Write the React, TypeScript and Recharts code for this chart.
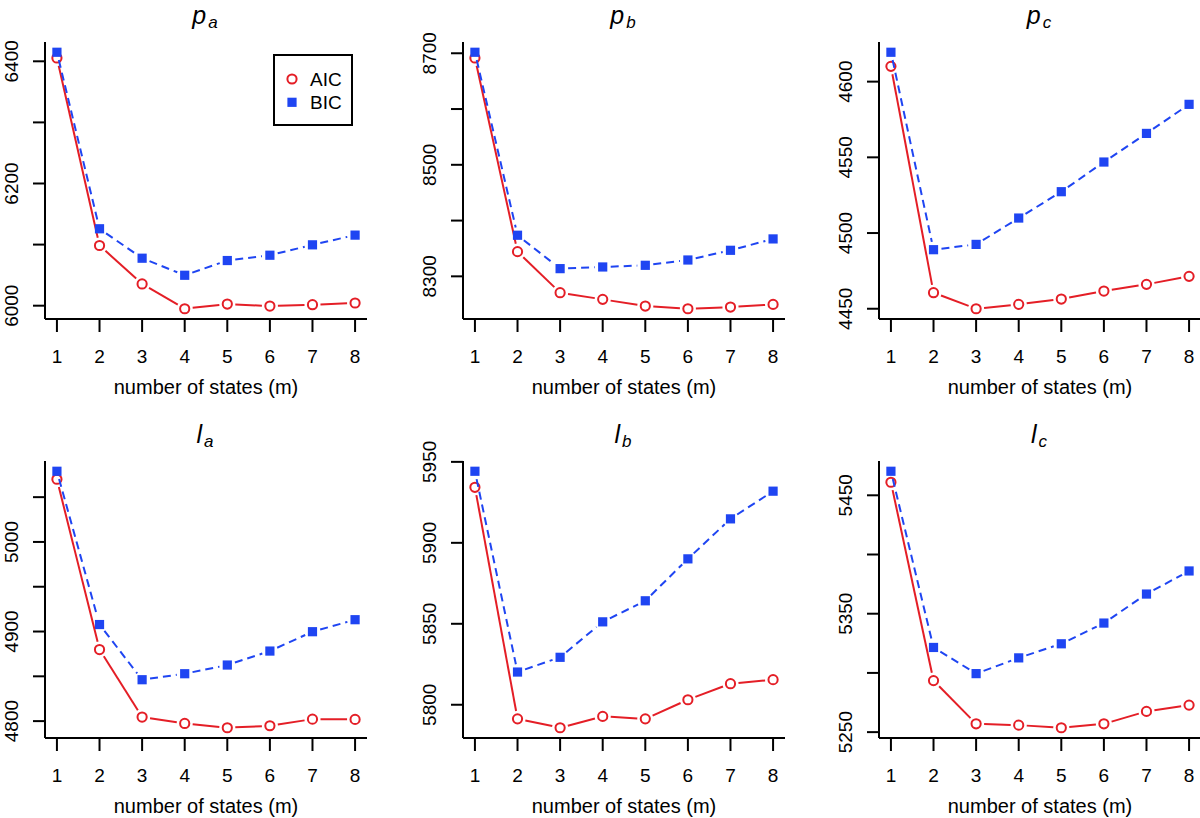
import { LineChart, Line, XAxis, YAxis, Legend } from "recharts";

const states = [1, 2, 3, 4, 5, 6, 7, 8];

const aicPa = [6405.5, 6098.5, 6035.6, 5995, 6002.7, 5999.4, 6001.6, 6004.4];
const bicPa = [6414.8, 6125.9, 6077.7, 6049.8, 6073.9, 6082.6, 6099.6, 6115.5];
const aicPb = [8691.6, 8344.3, 8270.7, 8258.7, 8246.7, 8241.9, 8244.9, 8249.7];
const bicPb = [8701.8, 8373.7, 8313.8, 8316.8, 8319.8, 8329.3, 8346.7, 8367.1];
const aicPc = [4610.1, 4460.6, 4450, 4452.9, 4456.4, 4461.7, 4466.1, 4471.4];
const bicPc = [4619.4, 4489, 4492.5, 4509.9, 4527.3, 4546.9, 4565.8, 4585];
const aicLa = [5070, 4879.9, 4804.5, 4797.4, 4792.6, 4794.8, 4802.2, 4801.9];
const bicLa = [5078.9, 4907.8, 4846.2, 4852.9, 4862.6, 4878.2, 4899.8, 4913.2];
const aicLb = [5934.3, 5791.3, 5785.8, 5792.8, 5791.3, 5803.1, 5813, 5815.5];
const bicLb = [5944.2, 5820.2, 5829.3, 5851.2, 5864.2, 5890.1, 5914.8, 5931.9];
const aicLc = [5461, 5293.5, 5257, 5255.9, 5253.7, 5257, 5267.5, 5272.8];
const bicLc = [5470.3, 5321.5, 5299.4, 5312.7, 5324.6, 5342.1, 5366.6, 5386.1];

const ticksPa = [6000, 6100, 6200, 6300, 6400];
const labelsPa = [6000, 6200, 6400];
const ticksPb = [8300, 8400, 8500, 8600, 8700];
const labelsPb = [8300, 8500, 8700];
const ticksPc = [4450, 4500, 4550, 4600];
const labelsPc = [4450, 4500, 4550, 4600];
const ticksLa = [4800, 4850, 4900, 4950, 5000, 5050];
const labelsLa = [4800, 4900, 5000];
const ticksLb = [5800, 5850, 5900, 5950];
const labelsLb = [5800, 5850, 5900, 5950];
const ticksLc = [5250, 5300, 5350, 5400, 5450];
const labelsLc = [5250, 5350, 5450];

const RED = "#e41e26";
const BLUE = "#1f45f2";
const FONT = "'Liberation Sans', Arial, Helvetica, sans-serif";
const GAP = 8;

// R-style axis range: data range stretched by 4% on each side
const pad = (v: number[]) => {
  const lo = Math.min(...v);
  const hi = Math.max(...v);
  const d = (hi - lo) * 0.04;
  return [lo - d, hi + d];
};

// type="b": segments stop short of the points
const makeDot = (kind: "circle" | "square", color: string, dash?: string) => (props: any) => {
  const { cx, cy, index, points } = props;
  const next = points && points[index + 1];
  let seg = null;
  if (next) {
    const dx = next.x - cx;
    const dy = next.y - cy;
    const len = Math.hypot(dx, dy);
    if (len > GAP * 2) {
      const ux = dx / len;
      const uy = dy / len;
      seg = (
        <line
          x1={cx + ux * GAP}
          y1={cy + uy * GAP}
          x2={next.x - ux * GAP}
          y2={next.y - uy * GAP}
          stroke={color}
          strokeWidth={2}
          strokeDasharray={dash}
        />
      );
    }
  }
  const mark =
    kind === "circle" ? (
      <circle cx={cx} cy={cy} r={4.6} fill="#fff" stroke={color} strokeWidth={2} />
    ) : (
      <rect x={cx - 4.6} y={cy - 4.6} width={9.2} height={9.2} fill={color} />
    );
  return (
    <g key={`d-${index}`}>
      {seg}
      {mark}
    </g>
  );
};

const XTick = (props: any) => {
  const { x, y, payload } = props;
  return (
    <text x={x} y={y + 28.5} textAnchor="middle" fontSize={19} fontFamily={FONT} fill="#000">
      {payload.value}
    </text>
  );
};

const makeYTick = (labels: number[]) => (props: any) => {
  const { x, y, payload } = props;
  if (!labels.includes(payload.value)) return <g />;
  const bx = x - 12.5;
  return (
    <text
      x={bx}
      y={y}
      transform={`rotate(-90 ${bx} ${y})`}
      textAnchor="middle"
      fontSize={19}
      fontFamily={FONT}
      fill="#000"
    >
      {payload.value}
    </text>
  );
};

const LegendBox = (props: any) => {
  const items = props.payload || [];
  return (
    <svg width={80} height={72} style={{ display: "block" }}>
      <rect x={1} y={1} width={78} height={70} fill="#fff" stroke="#000" strokeWidth={2} />
      {items.map((it: any, i: number) => {
        const cy = 25 + i * 23.3;
        return (
          <g key={it.value}>
            {it.type === "circle" ? (
              <circle cx={19} cy={cy} r={4.6} fill="#fff" stroke={it.color} strokeWidth={2} />
            ) : (
              <rect x={14.4} y={cy - 4.6} width={9.2} height={9.2} fill={it.color} />
            )}
            <text x={37} y={cy + 6.8} fontSize={19} fontFamily={FONT} fill="#000">
              {it.value}
            </text>
          </g>
        );
      })}
    </svg>
  );
};

type PanelProps = {
  sym: string;
  sub: string;
  aic: number[];
  bic: number[];
  ticks: number[];
  labels: number[];
  left: number;
  top: number;
  legend?: boolean;
};

function Panel({ sym, sub, aic, bic, ticks, labels, left, top, legend }: PanelProps) {
  const rows = states.map((m, i) => ({ m, aic: aic[i], bic: bic[i] }));
  const yDom = pad([...aic, ...bic]);
  const xDom = pad(states);
  const axisLine = { stroke: "#000", strokeWidth: 2 };
  return (
    <div style={{ position: "absolute", left, top, width: 372, height: 420 }}>
      <div
        style={{
          position: "absolute",
          left: 45,
          width: 320,
          top: 0,
          textAlign: "center",
          fontFamily: FONT,
          fontStyle: "italic",
          color: "#000",
          lineHeight: "30px",
          zIndex: 2,
        }}
      >
        <span style={{ fontSize: 25 }}>{sym}</span>
        <span style={{ fontSize: 17, position: "relative", top: 4, marginLeft: 2 }}>{sub}</span>
      </div>
      <LineChart width={372} height={420} data={rows} margin={{ top: 42, right: 5, bottom: 0, left: 0 }}>
        <XAxis
          xAxisId="b"
          dataKey="m"
          type="number"
          domain={xDom}
          ticks={states}
          interval={0}
          tickSize={13}
          tickLine={axisLine}
          axisLine={axisLine}
          height={101}
          tick={<XTick />}
          label={{
            content: (p: any) => {
              const vb = p.viewBox;
              return (
                <text
                  x={vb.x + vb.width / 2}
                  y={vb.y + 74.5}
                  textAnchor="middle"
                  fontSize={20}
                  fontFamily={FONT}
                  fill="#000"
                >
                  number of states (m)
                </text>
              );
            },
          }}
        />
        <XAxis
          xAxisId="t"
          orientation="top"
          type="number"
          domain={xDom}
          height={0}
          tick={false}
          tickLine={false}
          axisLine={axisLine}
        />
        <YAxis
          yAxisId="l"
          type="number"
          domain={yDom}
          ticks={ticks}
          interval={0}
          width={45}
          tickSize={12}
          tickLine={axisLine}
          axisLine={axisLine}
          tick={makeYTick(labels)}
        />
        <YAxis
          yAxisId="r"
          orientation="right"
          type="number"
          domain={yDom}
          width={0}
          tick={false}
          tickLine={false}
          axisLine={axisLine}
        />
        {legend && (
          <Legend
            layout="horizontal"
            verticalAlign="middle"
            align="center"
            content={<LegendBox />}
            wrapperStyle={{ left: 273, top: 54, width: 80, height: 72 }}
          />
        )}
        <Line
          xAxisId="b"
          yAxisId="l"
          dataKey="aic"
          name="AIC"
          stroke={RED}
          strokeOpacity={0}
          legendType="circle"
          dot={makeDot("circle", RED)}
          activeDot={false}
          isAnimationActive={false}
        />
        <Line
          xAxisId="b"
          yAxisId="l"
          dataKey="bic"
          name="BIC"
          stroke={BLUE}
          strokeOpacity={0}
          legendType="square"
          dot={makeDot("square", BLUE, "8 5")}
          activeDot={false}
          isAnimationActive={false}
        />
      </LineChart>
    </div>
  );
}

export default function App() {
  return (
    <div
      style={{
        position: "absolute",
        left: 0,
        top: 0,
        width: 1200,
        height: 818,
        overflow: "hidden",
        background: "#fff",
      }}
    >
      <Panel sym="p" sub="a" aic={aicPa} bic={bicPa} ticks={ticksPa} labels={labelsPa} left={0} top={0} legend />
      <Panel sym="p" sub="b" aic={aicPb} bic={bicPb} ticks={ticksPb} labels={labelsPb} left={418} top={0} />
      <Panel sym="p" sub="c" aic={aicPc} bic={bicPc} ticks={ticksPc} labels={labelsPc} left={834} top={0} />
      <Panel sym="l" sub="a" aic={aicLa} bic={bicLa} ticks={ticksLa} labels={labelsLa} left={0} top={419} />
      <Panel sym="l" sub="b" aic={aicLb} bic={bicLb} ticks={ticksLb} labels={labelsLb} left={418} top={419} />
      <Panel sym="l" sub="c" aic={aicLc} bic={bicLc} ticks={ticksLc} labels={labelsLc} left={834} top={419} />
    </div>
  );
}
